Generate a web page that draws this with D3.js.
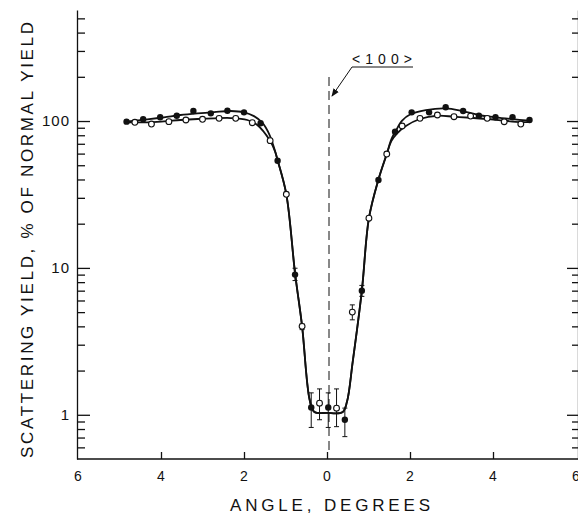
<!DOCTYPE html>
<html>
<head>
<meta charset="utf-8">
<script src="https://cdn.jsdelivr.net/npm/d3@7"></script>
<style>
  html, body { margin: 0; padding: 0; background: #fff; }
  svg { display: block; }
  text { font-family: "Liberation Sans", "DejaVu Sans", sans-serif; fill: #111; }
</style>
</head>
<body>
<svg id="chart" width="578" height="517"></svg>
<script>
// ---- data ----
const filledX = [-4.83,-4.43,-4.02,-3.62,-3.22,-2.80,-2.40,-2.00,-1.60,-1.19,-0.77,-0.38,0.03,0.43,0.84,1.24,1.64,2.04,2.46,2.86,3.28,3.66,4.06,4.47,4.88];
const filledY = [99,103,106,108.6,117,112.8,117.5,114.6,96.5,53.7,9.0,1.12,1.12,0.925,7.0,39.7,84.6,114.6,114.6,124,117,108.7,106,106,101.6];

const openX = [-4.63,-4.23,-3.81,-3.40,-3.00,-2.60,-2.20,-1.80,-1.37,-0.98,-0.60,-0.18,0.23,0.61,1.01,1.44,1.81,2.24,2.66,3.06,3.46,3.86,4.27,4.67];
const openY = [98,95.4,99,101.6,102.7,104.3,104.3,97.4,73.5,31.7,4.0,1.2,1.11,5.0,21.8,59.6,92.5,104.3,109.9,107,108,104.3,98.9,95.4];

const errX    = [-0.77,-0.60,-0.38,-0.18,0.03,0.23,0.43,0.61,0.84];
const errLow  = [8.2,3.8,0.82,0.925,0.82,0.83,0.71,4.43,6.4];
const errHigh = [9.95,4.15,1.41,1.50,1.41,1.50,1.11,5.6,7.6];

// hand-drawn fit curves
const fitFilledLeftX  = [-4.85,-4.33,-3.93,-3.53,-3.12,-2.72,-2.32,-2.00,-1.76,-1.56,-1.38];
const fitFilledLeftY  = [98.9,102.7,106,109.9,112.8,115.1,117,114.6,108,97.4,80];
const fitOpenLeftX    = [-4.85,-4.33,-3.93,-3.53,-3.12,-2.72,-2.32,-1.92,-1.68,-1.38];
const fitOpenLeftY    = [98,98,99.5,101.6,103.2,104.3,104.8,101.6,94,74];
const fitCommonX      = [-1.25,-1.19,-0.98,-0.77,-0.60,-0.42,-0.31,0,0.37,0.48,0.62,0.84,1.01,1.24,1.44];
const fitCommonY      = [62,54,31.7,9.2,4.0,1.27,1.05,1.03,1.04,1.22,2.3,7.0,21.8,40,59.6];
const fitFilledRightX = [1.55,1.66,1.81,2.02,2.38,2.86,3.26,3.66,4.06,4.47,4.88];
const fitFilledRightY = [75,86,100.5,111.6,118.8,122,117,109.9,106,103,100.5];
const fitOpenRightX   = [1.55,1.69,1.90,2.24,2.66,3.06,3.46,3.86,4.27,4.67,4.88];
const fitOpenRightY   = [73,82.4,92.5,103.2,108.6,107,105.3,103.2,100.5,98.4,98.4];

const xTicks = [-6,-4,-2,0,2,4,6];
const yMajor = [1,10,100];
const yMinor = [0.6,0.7,0.8,0.9,2,3,4,5,6,7,8,9,20,30,40,50,60,70,80,90,200,300,400,500];

const xTitle = "ANGLE, DEGREES";
const yTitle = "SCATTERING YIELD, % OF NORMAL YIELD";
const axisLabel = "<100>";

// ---- drawing ----
const svg = d3.select("#chart");
const L = 77, R = 578, T = 10, B = 459;

const x = d3.scaleLinear().domain([-6, 6]).range([78, 576]);
const y = d3.scaleLog().domain([0.5, 570]).range([B, T]);

const ink = "#111";

// left axis
const gl = svg.append("g").attr("transform", `translate(${L},0)`);
gl.call(d3.axisRight(y).tickValues(yMinor).tickSize(8).tickSizeOuter(0).tickFormat(""));
gl.append("g").call(d3.axisRight(y).tickValues(yMajor).tickSize(13).tickSizeOuter(0).tickFormat(""))
  .select(".domain").remove();
// right axis
const gr = svg.append("g").attr("transform", `translate(${R},0)`);
gr.call(d3.axisLeft(y).tickValues(yMinor).tickSize(6).tickSizeOuter(0).tickFormat(""));
gr.append("g").call(d3.axisLeft(y).tickValues(yMajor).tickSize(11).tickSizeOuter(0).tickFormat(""))
  .select(".domain").remove();
// bottom axis
const gb = svg.append("g").attr("transform", `translate(0,${B})`);
gb.call(d3.axisTop(x).tickValues(xTicks.filter(v => Math.abs(v) < 6)).tickSize(7).tickSizeOuter(0).tickFormat(""));
gb.select(".domain").attr("d", `M${L},0H${R}`);

svg.selectAll(".domain, .tick line").attr("stroke", ink).attr("stroke-width", 1.3);

// y tick labels
svg.append("g").selectAll("text").data(yMajor).join("text")
  .attr("x", 70).attr("y", d => y(d)).attr("dy", "0.36em")
  .attr("text-anchor", "end").attr("font-size", 15).attr("letter-spacing", 1)
  .text(d => d3.format("d")(d));

// x tick labels
svg.append("g").selectAll("text").data(xTicks).join("text")
  .attr("x", d => x(d)).attr("y", 481)
  .attr("text-anchor", "middle").attr("font-size", 14)
  .text(d => Math.abs(d));

// axis titles
svg.append("text").attr("x", 330).attr("y", 511)
  .attr("text-anchor", "middle").attr("font-size", 17)
  .attr("textLength", 200).attr("lengthAdjust", "spacing")
  .text(xTitle);

svg.append("text")
  .attr("transform", "translate(33,458) rotate(-90)")
  .attr("x", 0).attr("y", 0).attr("font-size", 17)
  .attr("textLength", 436).attr("lengthAdjust", "spacing")
  .text(yTitle);

// dashed <100> line
svg.append("line")
  .attr("x1", x(0) + 2).attr("x2", x(0) + 2)
  .attr("y1", 77).attr("y2", 455)
  .attr("stroke", ink).attr("stroke-width", 1).attr("stroke-dasharray", "9,5");

// label with underline + arrow
svg.append("defs").append("marker")
  .attr("id", "arr").attr("viewBox", "0 0 10 10").attr("refX", 9).attr("refY", 5)
  .attr("markerWidth", 8).attr("markerHeight", 8).attr("orient", "auto")
  .append("path").attr("d", "M0,1 L10,5 L0,9 Z").attr("fill", ink);
svg.append("text").attr("x", 352).attr("y", 64).attr("font-size", 14)
  .attr("textLength", 60).attr("lengthAdjust", "spacing").text(axisLabel);
svg.append("path").attr("d", "M413,67 H352 L332,96")
  .attr("fill", "none").attr("stroke", ink).attr("stroke-width", 1)
  .attr("marker-end", "url(#arr)");

// fit curves
const zip = (xs, ys) => xs.map((v, i) => [v, ys[i]]);
const common = zip(fitCommonX, fitCommonY);
const filledFit = [...zip(fitFilledLeftX, fitFilledLeftY), ...common, ...zip(fitFilledRightX, fitFilledRightY)];
const openFit = [...zip(fitOpenLeftX, fitOpenLeftY), ...common, ...zip(fitOpenRightX, fitOpenRightY)];
const line = d3.line().x(d => x(d[0])).y(d => y(d[1])).curve(d3.curveCatmullRom.alpha(0.5));
[filledFit, openFit].forEach(pts => {
  svg.append("path").attr("d", line(pts)).attr("fill", "none")
    .attr("stroke", ink).attr("stroke-width", 1.8).attr("stroke-linejoin", "round");
});

// error bars
const eb = svg.append("g").attr("stroke", ink).attr("stroke-width", 1);
errX.forEach((ex, i) => {
  const cx = x(ex), y1 = y(errLow[i]), y2 = y(errHigh[i]);
  eb.append("line").attr("x1", cx).attr("x2", cx).attr("y1", y1).attr("y2", y2);
  eb.append("line").attr("x1", cx - 2.5).attr("x2", cx + 2.5).attr("y1", y1).attr("y2", y1);
  eb.append("line").attr("x1", cx - 2.5).attr("x2", cx + 2.5).attr("y1", y2).attr("y2", y2);
});

// points
svg.append("g").selectAll("circle").data(zip(openX, openY)).join("circle")
  .attr("cx", d => x(d[0])).attr("cy", d => y(d[1])).attr("r", 2.9)
  .attr("fill", "#fff").attr("stroke", ink).attr("stroke-width", 1.1);
svg.append("g").selectAll("circle").data(zip(filledX, filledY)).join("circle")
  .attr("cx", d => x(d[0])).attr("cy", d => y(d[1])).attr("r", 3.2)
  .attr("fill", ink);
</script>
</body>
</html>
